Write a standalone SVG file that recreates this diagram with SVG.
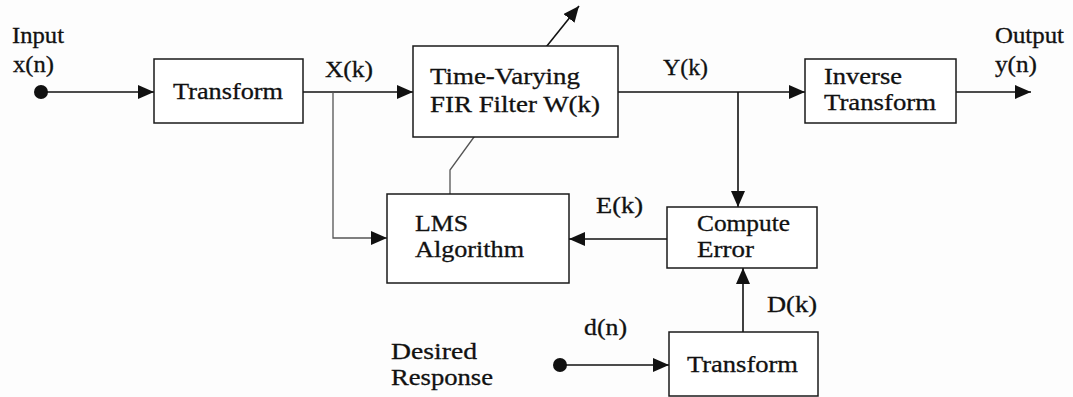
<svg xmlns="http://www.w3.org/2000/svg" width="1073" height="397" viewBox="0 0 1073 397">
  <style>
    .box { fill: #ffffff; stroke: #1a1a1a; stroke-width: 1.5; }
    .wire { fill: none; stroke: #111111; stroke-width: 1.6; }
    .thin { fill: none; stroke: #555555; stroke-width: 1.3; }
    .lbl { font-family: 'Liberation Serif', 'Times New Roman', serif; font-size: 23px; fill: #111111; stroke: #111111; stroke-width: 0.3; }
  </style>
  <defs>
    <marker id="arrow" viewBox="0 0 16 14" refX="16" refY="7" markerWidth="16" markerHeight="14" markerUnits="userSpaceOnUse" orient="auto">
      <path d="M0,0 L16,7 L0,14 z" fill="#111111"/>
    </marker>
  </defs>
  <rect width="1073" height="397" fill="#fdfdfd"/>

  <!-- signal lines -->
  <g id="connectors">
    <line class="wire" x1="41" y1="92" x2="154" y2="92" marker-end="url(#arrow)"/>
    <line class="wire" x1="303" y1="92" x2="413" y2="92" marker-end="url(#arrow)"/>
    <line class="wire" x1="618" y1="92" x2="805" y2="92" marker-end="url(#arrow)"/>
    <line class="wire" x1="956" y1="92" x2="1031" y2="92" marker-end="url(#arrow)"/>
    <line class="wire" x1="738" y1="92" x2="738" y2="207" marker-end="url(#arrow)"/>
    <polyline class="thin" points="333,92 333,238 387,238" marker-end="url(#arrow)"/>
    <line class="wire" x1="667" y1="239" x2="569" y2="239" marker-end="url(#arrow)"/>
    <polyline class="thin" points="450,194 450,170 474,137"/>
    <line class="wire" x1="474" y1="137" x2="579" y2="6" marker-end="url(#arrow)"/>
    <line class="wire" x1="560" y1="365" x2="669" y2="365" marker-end="url(#arrow)"/>
    <line class="wire" x1="743" y1="332" x2="743" y2="268" marker-end="url(#arrow)"/>
    <circle cx="41" cy="92" r="7" fill="#111111"/>
    <circle cx="560" cy="365" r="7" fill="#111111"/>
  </g>

  <g id="input-label" class="lbl">
    <text x="12" y="43" textLength="52" lengthAdjust="spacingAndGlyphs">Input</text>
    <text x="13" y="72" textLength="41" lengthAdjust="spacingAndGlyphs">x(n)</text>
  </g>

  <g id="transform" class="lbl">
    <rect class="box" x="154" y="59" width="149" height="64"/>
    <text x="173" y="99" textLength="110" lengthAdjust="spacingAndGlyphs">Transform</text>
  </g>

  <g id="xk-label" class="lbl">
    <text x="325" y="77" textLength="48" lengthAdjust="spacingAndGlyphs">X(k)</text>
  </g>

  <g id="fir-filter" class="lbl">
    <rect class="box" x="413" y="46" width="205" height="91"/>
    <text x="430" y="84" textLength="150" lengthAdjust="spacingAndGlyphs">Time-Varying</text>
    <text x="430" y="112" textLength="170" lengthAdjust="spacingAndGlyphs">FIR Filter W(k)</text>
  </g>

  <g id="yk-label" class="lbl">
    <text x="663" y="75" textLength="45" lengthAdjust="spacingAndGlyphs">Y(k)</text>
  </g>

  <g id="inverse-transform" class="lbl">
    <rect class="box" x="805" y="59" width="151" height="64"/>
    <text x="824" y="84" textLength="78" lengthAdjust="spacingAndGlyphs">Inverse</text>
    <text x="824" y="110" textLength="112" lengthAdjust="spacingAndGlyphs">Transform</text>
  </g>

  <g id="output-label" class="lbl">
    <text x="995" y="43" textLength="69" lengthAdjust="spacingAndGlyphs">Output</text>
    <text x="995" y="72" textLength="42" lengthAdjust="spacingAndGlyphs">y(n)</text>
  </g>

  <g id="lms" class="lbl">
    <rect class="box" x="387" y="194" width="182" height="89"/>
    <text x="415" y="231" textLength="53" lengthAdjust="spacingAndGlyphs">LMS</text>
    <text x="415" y="257" textLength="109" lengthAdjust="spacingAndGlyphs">Algorithm</text>
  </g>

  <g id="ek-label" class="lbl">
    <text x="596" y="213" textLength="47" lengthAdjust="spacingAndGlyphs">E(k)</text>
  </g>

  <g id="compute-error" class="lbl">
    <rect class="box" x="667" y="207" width="150" height="61"/>
    <text x="697" y="231" textLength="93" lengthAdjust="spacingAndGlyphs">Compute</text>
    <text x="697" y="257" textLength="57" lengthAdjust="spacingAndGlyphs">Error</text>
  </g>

  <g id="dk-label" class="lbl">
    <text x="767" y="312" textLength="50" lengthAdjust="spacingAndGlyphs">D(k)</text>
  </g>

  <g id="dn-label" class="lbl">
    <text x="584" y="335" textLength="43" lengthAdjust="spacingAndGlyphs">d(n)</text>
  </g>

  <g id="desired-response" class="lbl">
    <text x="391" y="359" textLength="86" lengthAdjust="spacingAndGlyphs">Desired</text>
    <text x="391" y="385" textLength="102" lengthAdjust="spacingAndGlyphs">Response</text>
  </g>

  <g id="transform-desired" class="lbl">
    <rect class="box" x="669" y="332" width="149" height="64"/>
    <text x="687" y="372" textLength="111" lengthAdjust="spacingAndGlyphs">Transform</text>
  </g>
</svg>
